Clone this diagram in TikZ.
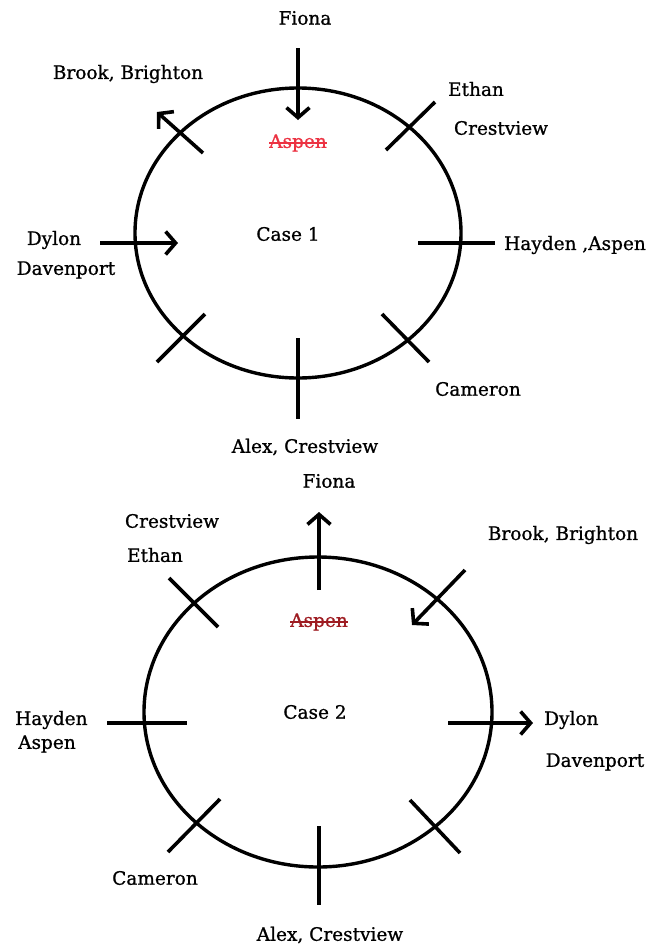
\documentclass[tikz,border=0pt]{standalone}
\usepackage{fontspec}
\setmainfont[FakeBold=0.9]{DejaVu Serif}
\usepackage{tikz}
\usetikzlibrary{calc,arrows.meta}
\definecolor{aspenred}{RGB}{236,50,66}
\definecolor{aspendark}{RGB}{158,28,34}

\begin{document}
\begin{tikzpicture}[x=1pt,y=-1pt,
	cut/.style={line width=3.6pt},
	ring/.style={line width=3.4pt},
	strike/.style={line width=1.4pt},
	who/.style={font=\fontsize{18.5}{22}\selectfont, inner sep=0pt},
	>={Straight Barb[length=10pt,width=23pt]}]
	\useasboundingbox (0,0) rectangle (657,946);
	% centres of the two cases
	\coordinate (c1) at (298,233);
	\coordinate (c2) at (318,712);
	
	% Case 1: ring and the cuts through it
	\draw[ring] (c1) ellipse [x radius=163, y radius=145];
	\draw[cut,->] ($(c1)+(0,-185)$) -- ($(c1)+(0,-113)$);
	\draw[cut,->] ($(c1)+(-95,-80)$) -- ($(c1)+(-141,-121)$);
	\draw[cut] ($(c1)+(137,-131)$) -- ($(c1)+(88,-83)$);
	\draw[cut,->] ($(c1)+(-198,10)$) -- ($(c1)+(-120,10)$);
	\draw[cut] ($(c1)+(120,10)$) -- ($(c1)+(197,10)$);
	\draw[cut] ($(c1)+(84,81)$) -- ($(c1)+(131,129)$);
	\draw[cut] ($(c1)+(-93,81)$) -- ($(c1)+(-141,129)$);
	\draw[cut] ($(c1)+(0,105)$) -- ($(c1)+(0,186)$);
	% Case 1: names
	\node[who] (fiona1) at ($(c1)+(7,-215)$) {Fiona};
	\node[who] (brook1) at ($(c1)+(-170,-159)$) {Brook, Brighton};
	\node[who] (ethan1) at ($(c1)+(178,-144)$) {Ethan};
	\node[who] (crest1) at ($(c1)+(203,-105)$) {Crestview};
	\node[who,text=aspenred] (aspen1) at ($(c1)+(0,-90)$) {Aspen};
	\draw[strike,aspenred] ($(aspen1.base west)+(0,-5)$) -- ($(aspen1.base east)+(0,-5)$);
	\node[who] (dylon1) at ($(c1)+(-244,7)$) {Dylon};
	\node[who] (daven1) at ($(c1)+(-232,37)$) {Davenport};
	\node[who] (case1) at ($(c1)+(-10,1)$) {Case 1};
	\node[who,anchor=west] (hayden1) at ($(c1)+(206,12)$) {Hayden ,Aspen};
	\node[who] (cameron1) at ($(c1)+(180,156)$) {Cameron};
	\node[who] (alex1) at ($(c1)+(7,214)$) {Alex, Crestview};
	
	% Case 2: ring and the cuts through it
	\draw[ring] (c2) ellipse [x radius=174, y radius=155];
	\draw[cut,->] ($(c2)+(1,-122)$) -- ($(c2)+(1,-200)$);
	\draw[cut] ($(c2)+(-149,-134)$) -- ($(c2)+(-100,-85)$);
	\draw[cut,->] ($(c2)+(147,-142)$) -- ($(c2)+(94,-87)$);
	\draw[cut] ($(c2)+(-211,11)$) -- ($(c2)+(-131,11)$);
	\draw[cut,->] ($(c2)+(130,11)$) -- ($(c2)+(215,11)$);
	\draw[cut] ($(c2)+(-98,87)$) -- ($(c2)+(-150,140)$);
	\draw[cut] ($(c2)+(92,88)$) -- ($(c2)+(142,141)$);
	\draw[cut] ($(c2)+(1,114)$) -- ($(c2)+(1,193)$);
	% Case 2: names
	\node[who] (fiona2) at ($(c2)+(11,-231)$) {Fiona};
	\node[who] (crest2) at ($(c2)+(-146,-191)$) {Crestview};
	\node[who] (ethan2) at ($(c2)+(-163,-157)$) {Ethan};
	\node[who] (brook2) at ($(c2)+(245,-177)$) {Brook, Brighton};
	\node[who,text=aspendark] (aspen2) at ($(c2)+(1,-90)$) {Aspen};
	\draw[strike,aspendark] ($(aspen2.base west)+(0,-5)$) -- ($(aspen2.base east)+(0,-5)$);
	\node[who] (case2) at ($(c2)+(-3,0)$) {Case 2};
	\node[who,anchor=west] (hayden2) at ($(c2)+(-303,8)$) {Hayden};
	\node[who,anchor=west] (aspen3) at ($(c2)+(-300,32)$) {Aspen};
	\node[who,anchor=west] (dylon2) at ($(c2)+(226,8)$) {Dylon};
	\node[who] (daven2) at ($(c2)+(277,50)$) {Davenport};
	\node[who] (cameron2) at ($(c2)+(-163,166)$) {Cameron};
	\node[who] (alex2) at ($(c2)+(12,223)$) {Alex, Crestview};
\end{tikzpicture}
\end{document}
